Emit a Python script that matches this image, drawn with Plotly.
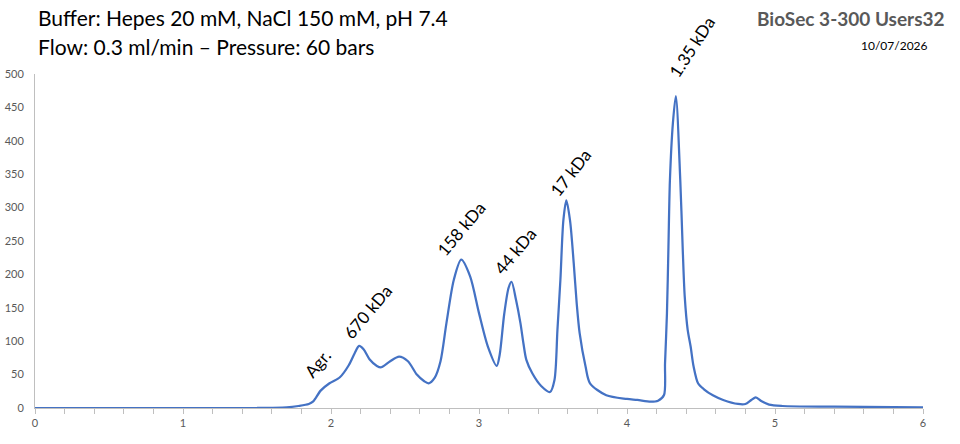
import plotly.graph_objects as go

# Chromatogram (elution volume in ml vs absorbance)
volume = [0, 0.5, 1.0, 1.5, 1.7, 1.78, 1.85, 1.88, 1.93, 1.99, 2.06, 2.12, 2.16, 2.19, 2.22,
          2.26, 2.31, 2.34, 2.40, 2.46, 2.52, 2.58, 2.63, 2.66, 2.70, 2.74, 2.78, 2.83, 2.88,
          2.94, 3.00, 3.06, 3.12, 3.14, 3.17, 3.20, 3.22, 3.25, 3.28, 3.30, 3.32, 3.36, 3.42,
          3.48, 3.51, 3.53, 3.55, 3.57, 3.59, 3.615, 3.64, 3.66, 3.68, 3.72, 3.75, 3.86, 4.00, 4.07,
          4.16, 4.21, 4.25, 4.257, 4.27, 4.28, 4.29, 4.31, 4.33, 4.36, 4.376, 4.39, 4.41, 4.43,
          4.45, 4.48, 4.52, 4.58,
          4.65, 4.75, 4.80, 4.84, 4.87, 4.91, 4.96, 5.05, 5.4, 6.0]
signal = [0, 0, 0, 0, 1, 3, 6, 10, 26, 37, 46, 64, 82, 93, 88,
          73, 63, 61, 70, 77, 70, 50, 40, 37, 45, 70, 127, 192, 222,
          197, 142, 92, 63, 80, 140, 180, 189, 162, 127, 97, 72, 52, 33,
          24, 42, 117, 192, 281, 311, 281, 217, 157, 112, 62, 37, 19, 13.5, 12,
          9.5, 11, 19.5, 67, 142, 241, 341, 426, 467, 341, 241, 167, 117, 92,
          62, 37, 28, 19,
          12, 6, 6, 12, 16, 10, 5, 3, 2, 1]

peak_labels = ["Agr.", "670 kDa", "158 kDa", "44 kDa", "17 kDa", "1.35 kDa"]
peak_x = [1.91, 2.25, 2.88, 3.24, 3.62, 4.44]
peak_y = [66, 144, 269, 235, 352, 490]
label_angle = [-50, -50, -50, -50, -52, -57]
label_shift = [0, 0, 0, 0, 0, 34]

x_ticks = [0, 1, 2, 3, 4, 5, 6]
y_ticks = [0, 50, 100, 150, 200, 250, 300, 350, 400, 450, 500]

FONT = "Lato"

fig = go.Figure()
fig.add_trace(go.Scatter(x=volume, y=signal, mode="lines",
                         line=dict(color="#4472C4", width=2.25, shape="spline", smoothing=0.8),
                         hoverinfo="skip", showlegend=False))

for t, px, py, a, s in zip(peak_labels, peak_x, peak_y, label_angle, label_shift):
    fig.add_annotation(x=px, y=py, text=t, showarrow=False, textangle=a, yshift=s,
                       font=dict(family=FONT, size=17, color="#000000"))

fig.add_annotation(xref="paper", yref="paper", x=0.0, y=1.0, xshift=1, yshift=57, xanchor="left", yanchor="middle",
                   text="Buffer: Hepes 20 mM, NaCl 150 mM, pH 7.4", showarrow=False,
                   font=dict(family=FONT, size=21, color="#000000"))
fig.add_annotation(xref="paper", yref="paper", x=0.0, y=1.0, xshift=1, yshift=28, xanchor="left", yanchor="middle",
                   text="Flow: 0.3 ml/min – Pressure: 60 bars", showarrow=False,
                   font=dict(family=FONT, size=21, color="#000000"))
fig.add_annotation(xref="paper", yref="paper", x=1.0, y=1.0, xshift=24, yshift=56, xanchor="right", yanchor="middle",
                   text="<b>BioSec 3-300 Users32</b>", showarrow=False,
                   font=dict(family=FONT, size=19, color="#595959"))
fig.add_annotation(xref="paper", yref="paper", x=1.0, y=1.0, xshift=7, yshift=29, xanchor="right", yanchor="middle",
                   text="10/07/2026", showarrow=False,
                   font=dict(family=FONT, size=12, color="#000000"))

fig.update_layout(
    width=960, height=444,
    margin=dict(l=35, r=37, t=74, b=36),
    paper_bgcolor="white", plot_bgcolor="white",
    font=dict(family=FONT, color="#595959", size=11),
)
fig.update_xaxes(range=[0, 6], tickvals=x_ticks, showgrid=False, zeroline=False, automargin=False,
                 showline=True, linecolor="#BFBFBF", linewidth=1,
                 ticks="outside", ticklen=5, tickcolor="#BFBFBF",
                 minor=dict(dtick=0.2, ticks="outside", ticklen=5, tickcolor="#BFBFBF", showgrid=False),
                 tickfont=dict(family=FONT, size=11, color="#595959"))
fig.update_yaxes(range=[0, 500], tickvals=y_ticks, showgrid=False, zeroline=False, automargin=False,
                 showline=True, linecolor="#BFBFBF", linewidth=1, ticks="", ticklabelstandoff=8,
                 tickfont=dict(family=FONT, size=11, color="#595959"))

fig.write_html("out.html")
